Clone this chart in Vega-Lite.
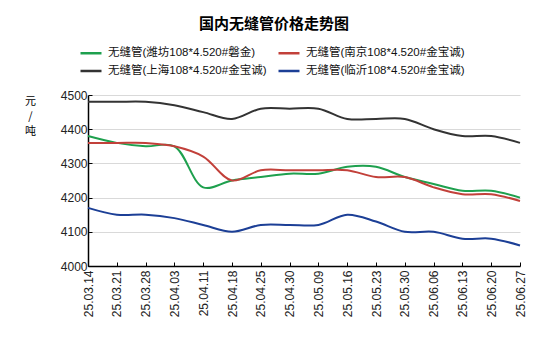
{
  "$schema": "https://vega.github.io/schema/vega-lite/v6.json",
  "autosize": {"type": "none"},
  "width": 432,
  "height": 171,
  "padding": {"left": 88, "top": 95, "right": 30, "bottom": 84},
  "background": "white",
  "title": {
    "text": "国内无缝管价格走势图",
    "font": "Noto Sans CJK SC",
    "fontSize": 15,
    "fontWeight": "bold",
    "color": "#000000",
    "anchor": "middle",
    "dx": -30,
    "offset": 9
  },
  "config": {
    "view": {"stroke": null},
    "font": "Liberation Sans, Noto Sans CJK SC"
  },
  "data": {
    "values": [
      {"date": "25.03.14", "series": "无缝管(潍坊108*4.520#磐金)", "price": 4380},
      {"date": "25.03.21", "series": "无缝管(潍坊108*4.520#磐金)", "price": 4360},
      {"date": "25.03.28", "series": "无缝管(潍坊108*4.520#磐金)", "price": 4350},
      {"date": "25.04.03", "series": "无缝管(潍坊108*4.520#磐金)", "price": 4350},
      {"date": "25.04.11", "series": "无缝管(潍坊108*4.520#磐金)", "price": 4230},
      {"date": "25.04.18", "series": "无缝管(潍坊108*4.520#磐金)", "price": 4250},
      {"date": "25.04.25", "series": "无缝管(潍坊108*4.520#磐金)", "price": 4260},
      {"date": "25.04.30", "series": "无缝管(潍坊108*4.520#磐金)", "price": 4270},
      {"date": "25.05.09", "series": "无缝管(潍坊108*4.520#磐金)", "price": 4270},
      {"date": "25.05.16", "series": "无缝管(潍坊108*4.520#磐金)", "price": 4290},
      {"date": "25.05.23", "series": "无缝管(潍坊108*4.520#磐金)", "price": 4290},
      {"date": "25.05.30", "series": "无缝管(潍坊108*4.520#磐金)", "price": 4260},
      {"date": "25.06.06", "series": "无缝管(潍坊108*4.520#磐金)", "price": 4240},
      {"date": "25.06.13", "series": "无缝管(潍坊108*4.520#磐金)", "price": 4220},
      {"date": "25.06.20", "series": "无缝管(潍坊108*4.520#磐金)", "price": 4220},
      {"date": "25.06.27", "series": "无缝管(潍坊108*4.520#磐金)", "price": 4200},
      {"date": "25.03.14", "series": "无缝管(南京108*4.520#金宝诚)", "price": 4360},
      {"date": "25.03.21", "series": "无缝管(南京108*4.520#金宝诚)", "price": 4360},
      {"date": "25.03.28", "series": "无缝管(南京108*4.520#金宝诚)", "price": 4360},
      {"date": "25.04.03", "series": "无缝管(南京108*4.520#金宝诚)", "price": 4350},
      {"date": "25.04.11", "series": "无缝管(南京108*4.520#金宝诚)", "price": 4320},
      {"date": "25.04.18", "series": "无缝管(南京108*4.520#金宝诚)", "price": 4250},
      {"date": "25.04.25", "series": "无缝管(南京108*4.520#金宝诚)", "price": 4280},
      {"date": "25.04.30", "series": "无缝管(南京108*4.520#金宝诚)", "price": 4280},
      {"date": "25.05.09", "series": "无缝管(南京108*4.520#金宝诚)", "price": 4280},
      {"date": "25.05.16", "series": "无缝管(南京108*4.520#金宝诚)", "price": 4280},
      {"date": "25.05.23", "series": "无缝管(南京108*4.520#金宝诚)", "price": 4260},
      {"date": "25.05.30", "series": "无缝管(南京108*4.520#金宝诚)", "price": 4260},
      {"date": "25.06.06", "series": "无缝管(南京108*4.520#金宝诚)", "price": 4230},
      {"date": "25.06.13", "series": "无缝管(南京108*4.520#金宝诚)", "price": 4210},
      {"date": "25.06.20", "series": "无缝管(南京108*4.520#金宝诚)", "price": 4210},
      {"date": "25.06.27", "series": "无缝管(南京108*4.520#金宝诚)", "price": 4190},
      {"date": "25.03.14", "series": "无缝管(上海108*4.520#金宝诚)", "price": 4480},
      {"date": "25.03.21", "series": "无缝管(上海108*4.520#金宝诚)", "price": 4480},
      {"date": "25.03.28", "series": "无缝管(上海108*4.520#金宝诚)", "price": 4480},
      {"date": "25.04.03", "series": "无缝管(上海108*4.520#金宝诚)", "price": 4470},
      {"date": "25.04.11", "series": "无缝管(上海108*4.520#金宝诚)", "price": 4450},
      {"date": "25.04.18", "series": "无缝管(上海108*4.520#金宝诚)", "price": 4430},
      {"date": "25.04.25", "series": "无缝管(上海108*4.520#金宝诚)", "price": 4460},
      {"date": "25.04.30", "series": "无缝管(上海108*4.520#金宝诚)", "price": 4460},
      {"date": "25.05.09", "series": "无缝管(上海108*4.520#金宝诚)", "price": 4460},
      {"date": "25.05.16", "series": "无缝管(上海108*4.520#金宝诚)", "price": 4430},
      {"date": "25.05.23", "series": "无缝管(上海108*4.520#金宝诚)", "price": 4430},
      {"date": "25.05.30", "series": "无缝管(上海108*4.520#金宝诚)", "price": 4430},
      {"date": "25.06.06", "series": "无缝管(上海108*4.520#金宝诚)", "price": 4400},
      {"date": "25.06.13", "series": "无缝管(上海108*4.520#金宝诚)", "price": 4380},
      {"date": "25.06.20", "series": "无缝管(上海108*4.520#金宝诚)", "price": 4380},
      {"date": "25.06.27", "series": "无缝管(上海108*4.520#金宝诚)", "price": 4360},
      {"date": "25.03.14", "series": "无缝管(临沂108*4.520#金宝诚)", "price": 4170},
      {"date": "25.03.21", "series": "无缝管(临沂108*4.520#金宝诚)", "price": 4150},
      {"date": "25.03.28", "series": "无缝管(临沂108*4.520#金宝诚)", "price": 4150},
      {"date": "25.04.03", "series": "无缝管(临沂108*4.520#金宝诚)", "price": 4140},
      {"date": "25.04.11", "series": "无缝管(临沂108*4.520#金宝诚)", "price": 4120},
      {"date": "25.04.18", "series": "无缝管(临沂108*4.520#金宝诚)", "price": 4100},
      {"date": "25.04.25", "series": "无缝管(临沂108*4.520#金宝诚)", "price": 4120},
      {"date": "25.04.30", "series": "无缝管(临沂108*4.520#金宝诚)", "price": 4120},
      {"date": "25.05.09", "series": "无缝管(临沂108*4.520#金宝诚)", "price": 4120},
      {"date": "25.05.16", "series": "无缝管(临沂108*4.520#金宝诚)", "price": 4150},
      {"date": "25.05.23", "series": "无缝管(临沂108*4.520#金宝诚)", "price": 4130},
      {"date": "25.05.30", "series": "无缝管(临沂108*4.520#金宝诚)", "price": 4100},
      {"date": "25.06.06", "series": "无缝管(临沂108*4.520#金宝诚)", "price": 4100},
      {"date": "25.06.13", "series": "无缝管(临沂108*4.520#金宝诚)", "price": 4080},
      {"date": "25.06.20", "series": "无缝管(临沂108*4.520#金宝诚)", "price": 4080},
      {"date": "25.06.27", "series": "无缝管(临沂108*4.520#金宝诚)", "price": 4060}
    ]
  },
  "mark": {"type": "line", "interpolate": "catmull-rom", "strokeWidth": 2},
  "encoding": {
    "x": {
      "field": "date",
      "type": "ordinal",
      "sort": null,
      "scale": {"type": "point", "padding": 0},
      "axis": {
        "title": null,
        "labelAngle": -90,
        "labelFontSize": 12,
        "labelColor": "#222222",
        "labelPadding": 8,
        "domainColor": "#000000",
        "domainWidth": 1.5,
        "tickColor": "#000000",
        "tickSize": -4,
        "grid": false
      }
    },
    "y": {
      "field": "price",
      "type": "quantitative",
      "scale": {"domain": [4000, 4500], "nice": false, "zero": false},
      "axis": {
        "values": [4000, 4100, 4200, 4300, 4400, 4500],
        "format": "d",
        "labelFontSize": 12,
        "labelColor": "#222222",
        "labelPadding": 5,
        "domainColor": "#000000",
        "domainWidth": 1.5,
        "tickColor": "#000000",
        "tickSize": -4,
        "gridColor": "#d9d9d9",
        "title": ["元", "/", "吨"],
        "titleAngle": 0,
        "titleX": -58,
        "titleY": 0,
        "titleAlign": "center",
        "titleBaseline": "top",
        "titleFont": "Noto Sans CJK SC",
        "titleFontSize": 11,
        "titleFontWeight": "normal",
        "titleLineHeight": 15,
        "titleColor": "#000000"
      }
    },
    "color": {
      "field": "series",
      "type": "nominal",
      "scale": {
        "domain": ["无缝管(潍坊108*4.520#磐金)", "无缝管(上海108*4.520#金宝诚)", "无缝管(南京108*4.520#金宝诚)", "无缝管(临沂108*4.520#金宝诚)"],
        "range": ["#1ea04e", "#333333", "#c2403a", "#1c3f96"]
      },
      "legend": {
        "title": null,
        "orient": "none",
        "legendX": -9,
        "legendY": -54,
        "columns": 2,
        "columnPadding": 6,
        "rowPadding": -7,
        "padding": 0,
        "symbolType": "stroke",
        "symbolSize": 441,
        "symbolStrokeWidth": 2.5,
        "labelOffset": 5,
        "labelFontSize": 11.5,
        "labelColor": "#111111",
        "labelLimit": 300
      }
    }
  }
}
